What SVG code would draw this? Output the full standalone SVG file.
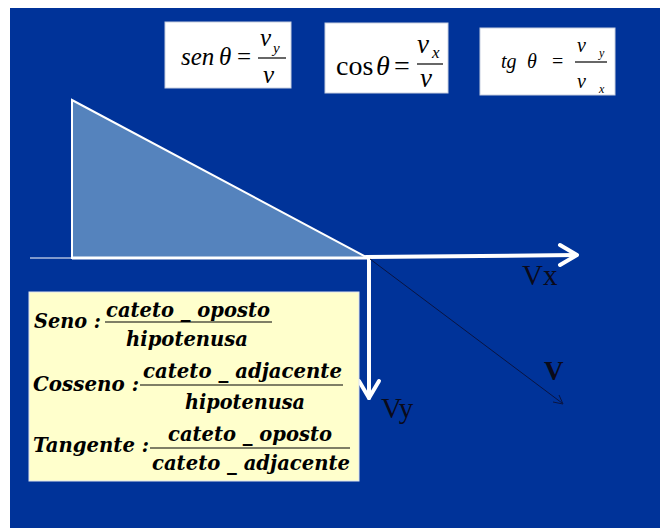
<svg xmlns="http://www.w3.org/2000/svg" width="660" height="528" viewBox="0 0 660 528">
<style>
.box{fill:#ffffff;stroke:#c8d0e0;stroke-width:1}
.ti{font-family:"Liberation Serif","Times New Roman",serif;font-style:italic;fill:#000}
.tr{font-family:"Liberation Serif","Times New Roman",serif;fill:#000}
.bi{font-family:"DejaVu Serif","Liberation Serif",serif;font-style:italic;font-weight:bold;font-size:21px;fill:#000}
.fl{stroke:#000;stroke-width:1.2}
.arr{stroke:#ffffff;stroke-width:4;fill:none;stroke-linecap:round;stroke-linejoin:round}
.lbl{font-family:"Liberation Serif","Times New Roman",serif;fill:#0a0a1a}
</style>
<rect x="0" y="0" width="660" height="528" fill="#ffffff"/>
<rect x="10" y="8" width="650" height="520" fill="#003399"/>

<g id="formula-sen">
<rect class="box" x="165" y="22" width="126" height="66"/>
<text class="ti" x="181" y="65" font-size="25">sen</text>
<text class="ti" x="219" y="65" font-size="25">θ</text>
<text class="tr" x="237" y="65" font-size="25">=</text>
<line class="fl" x1="258" y1="58" x2="286" y2="58"/>
<text class="ti" x="260" y="46" font-size="25">v</text>
<text class="ti" x="273" y="53" font-size="15">y</text>
<text class="ti" x="263" y="83" font-size="25">v</text>
</g>

<g id="formula-cos">
<rect class="box" x="325" y="23" width="123" height="70"/>
<text class="tr" x="336" y="75" font-size="28">cos</text>
<text class="ti" x="376" y="75" font-size="28">θ</text>
<text class="tr" x="394" y="75" font-size="28">=</text>
<line class="fl" x1="417" y1="64" x2="443" y2="64"/>
<text class="ti" x="417" y="53" font-size="27">v</text>
<text class="ti" x="432" y="58" font-size="17">x</text>
<text class="ti" x="420" y="87" font-size="27">v</text>
</g>

<g id="formula-tg">
<rect class="box" x="480" y="28" width="135" height="67"/>
<text class="ti" x="501" y="68" font-size="20">tg</text>
<text class="ti" x="527" y="68" font-size="20">θ</text>
<text class="tr" x="552" y="68" font-size="20">=</text>
<line class="fl" x1="575" y1="62" x2="607" y2="62"/>
<text class="ti" x="577" y="52" font-size="20">v</text>
<text class="ti" x="599" y="57" font-size="12">y</text>
<text class="ti" x="577" y="88" font-size="20">v</text>
<text class="ti" x="599" y="93" font-size="12">x</text>
</g>

<g id="triangle">
<line x1="30" y1="258" x2="72" y2="258" stroke="#ffffff" stroke-width="1"/>
<polygon points="72,100 72,258 368,258" fill="#5583bd" stroke="#ffffff" stroke-width="2"/>
<line x1="72" y1="258" x2="368" y2="258" stroke="#ffffff" stroke-width="3"/>
</g>

<g id="connectors">
<line x1="366" y1="257" x2="576" y2="255" class="arr"/>
<polyline points="560,245 577,255 560,265" class="arr"/>
<line x1="369" y1="258" x2="369" y2="398" class="arr"/>
<polyline points="359,381 369,398 379,381" class="arr"/>
<line x1="370" y1="259" x2="562" y2="403" stroke="#0a1440" stroke-width="1"/>
<polyline points="553,402 563,404 559,395" fill="none" stroke="#0a1440" stroke-width="1"/>
</g>

<g id="labels">
<text class="lbl" x="522" y="285" font-size="29">Vx</text>
<text class="lbl" x="381" y="418" font-size="29">Vy</text>
<text class="lbl" x="544" y="380" font-size="27" font-weight="bold">V</text>
</g>

<g id="definitions">
<rect x="29" y="292" width="330" height="189" fill="#ffffcc" stroke="#dde4f0" stroke-width="1"/>
<text class="bi" x="34" y="328" textLength="67" lengthAdjust="spacingAndGlyphs">Seno :</text>
<text class="bi" x="106" y="317" textLength="164" lengthAdjust="spacingAndGlyphs">cateto _ oposto</text>
<line class="fl" x1="105" y1="322" x2="272" y2="322"/>
<text class="bi" x="126" y="346" textLength="122" lengthAdjust="spacingAndGlyphs">hipotenusa</text>

<text class="bi" x="33" y="391" textLength="106" lengthAdjust="spacingAndGlyphs">Cosseno :</text>
<text class="bi" x="143" y="378" textLength="199" lengthAdjust="spacingAndGlyphs">cateto _ adjacente</text>
<line class="fl" x1="140" y1="385" x2="343" y2="385"/>
<text class="bi" x="185" y="409" textLength="120" lengthAdjust="spacingAndGlyphs">hipotenusa</text>

<text class="bi" x="33" y="452" textLength="116" lengthAdjust="spacingAndGlyphs">Tangente :</text>
<text class="bi" x="168" y="441" textLength="164" lengthAdjust="spacingAndGlyphs">cateto _ oposto</text>
<line class="fl" x1="150" y1="448" x2="350" y2="448"/>
<text class="bi" x="152" y="470" textLength="198" lengthAdjust="spacingAndGlyphs">cateto _ adjacente</text>
</g>
</svg>
